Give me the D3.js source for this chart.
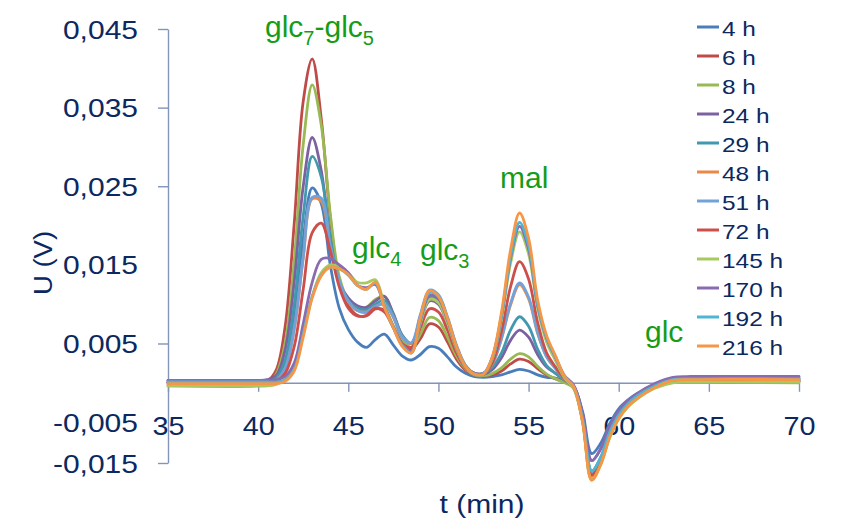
<!DOCTYPE html>
<html>
<head>
<meta charset="utf-8">
<script src="https://cdn.jsdelivr.net/npm/d3@7"></script>
<style>
  html, body { margin: 0; padding: 0; background: #ffffff; }
  svg { display: block; }
</style>
</head>
<body>
<svg id="chart" width="841" height="521"></svg>
<script>
// Retention time grid (min)
const times = [35, 40, 40.5, 41, 41.5, 42, 42.5, 43, 43.5, 44,
               44.5, 45, 45.5, 46, 46.5, 47, 47.5, 48, 48.5, 49,
               49.5, 50, 50.5, 51, 51.5, 52, 52.5, 53, 53.5, 54,
               54.5, 55, 55.5, 56, 56.5, 57, 57.5, 58, 58.5, 59,
               59.5, 60, 60.5, 61, 62, 63, 64, 70];

// Detector signal U (V) for each hydrolysis time
const u4h = [0.0001, 0.0001, 0.0001, 0.0005, 0.0025, 0.0085, 0.0183, 0.0248, 0.0228, 0.0150,
             0.0095, 0.0068, 0.0052, 0.0045, 0.0055, 0.0062, 0.0048, 0.0034, 0.0029, 0.0036,
             0.0046, 0.0044, 0.0033, 0.0020, 0.0012, 0.0008, 0.0007, 0.0008, 0.0010, 0.0014,
             0.0017, 0.0015, 0.0010, 0.0007, 0.0006, 0.0002, -0.0005, -0.0037, -0.0090, -0.0077,
             -0.0052, -0.0033, -0.0022, -0.0014, -0.0003, 0.0002, 0.0003, 0.0003];
const u6h = [0.0000, 0.0000, 0.0002, 0.0016, 0.0072, 0.0202, 0.0358, 0.0412, 0.0336, 0.0210,
             0.0128, 0.0098, 0.0086, 0.0085, 0.0094, 0.0092, 0.0072, 0.0050, 0.0043, 0.0056,
             0.0075, 0.0071, 0.0052, 0.0030, 0.0016, 0.0010, 0.0009, 0.0010, 0.0015, 0.0024,
             0.0030, 0.0027, 0.0018, 0.0010, 0.0005, 0.0001, -0.0006, -0.0048, -0.0118, -0.0099,
             -0.0067, -0.0044, -0.0029, -0.0019, -0.0005, 0.0003, 0.0003, 0.0002];
const u8h = [-0.0004, -0.0004, -0.0002, 0.0011, 0.0051, 0.0155, 0.0303, 0.0379, 0.0328, 0.0215,
             0.0135, 0.0105, 0.0095, 0.0096, 0.0106, 0.0110, 0.0085, 0.0056, 0.0045, 0.0062,
             0.0083, 0.0079, 0.0058, 0.0034, 0.0018, 0.0010, 0.0009, 0.0012, 0.0019, 0.0030,
             0.0037, 0.0033, 0.0021, 0.0011, 0.0005, 0.0000, -0.0007, -0.0050, -0.0123, -0.0103,
             -0.0069, -0.0045, -0.0030, -0.0020, -0.0006, 0.0001, 0.0001, 0.0000];
const u24h = [0.0003, 0.0003, 0.0004, 0.0009, 0.0042, 0.0128, 0.0250, 0.0312, 0.0270, 0.0180,
              0.0127, 0.0108, 0.0098, 0.0096, 0.0104, 0.0110, 0.0088, 0.0060, 0.0050, 0.0078,
              0.0104, 0.0100, 0.0075, 0.0043, 0.0021, 0.0012, 0.0011, 0.0017, 0.0032, 0.0054,
              0.0067, 0.0058, 0.0036, 0.0020, 0.0012, 0.0004, -0.0004, -0.0040, -0.0099, -0.0084,
              -0.0056, -0.0037, -0.0025, -0.0016, -0.0003, 0.0005, 0.0007, 0.0007];
const u29h = [0.0000, 0.0000, 0.0001, 0.0006, 0.0029, 0.0099, 0.0212, 0.0288, 0.0262, 0.0185,
              0.0128, 0.0105, 0.0095, 0.0093, 0.0100, 0.0105, 0.0086, 0.0060, 0.0050, 0.0080,
              0.0108, 0.0104, 0.0078, 0.0045, 0.0022, 0.0012, 0.0012, 0.0020, 0.0038, 0.0067,
              0.0084, 0.0072, 0.0043, 0.0022, 0.0012, 0.0003, -0.0005, -0.0046, -0.0112, -0.0095,
              -0.0063, -0.0041, -0.0028, -0.0018, -0.0004, 0.0004, 0.0005, 0.0005];
const u48h = [-0.0002, -0.0002, -0.0002, 0.0003, 0.0018, 0.0068, 0.0158, 0.0234, 0.0231, 0.0172,
              0.0127, 0.0103, 0.0092, 0.0090, 0.0097, 0.0100, 0.0083, 0.0058, 0.0050, 0.0085,
              0.0115, 0.0110, 0.0082, 0.0047, 0.0022, 0.0012, 0.0012, 0.0024, 0.0056, 0.0099,
              0.0125, 0.0107, 0.0063, 0.0033, 0.0018, 0.0005, -0.0005, -0.0049, -0.0119, -0.0101,
              -0.0068, -0.0044, -0.0029, -0.0019, -0.0005, 0.0003, 0.0004, 0.0003];
const u51h = [0.0001, 0.0001, 0.0001, 0.0003, 0.0019, 0.0069, 0.0160, 0.0236, 0.0235, 0.0175,
              0.0130, 0.0104, 0.0092, 0.0090, 0.0097, 0.0100, 0.0084, 0.0058, 0.0051, 0.0087,
              0.0118, 0.0112, 0.0084, 0.0048, 0.0022, 0.0012, 0.0012, 0.0025, 0.0057, 0.0101,
              0.0127, 0.0109, 0.0064, 0.0033, 0.0018, 0.0005, -0.0005, -0.0047, -0.0114, -0.0097,
              -0.0065, -0.0042, -0.0028, -0.0018, -0.0004, 0.0004, 0.0005, 0.0005];
const u72h = [0.0000, 0.0000, 0.0000, 0.0002, 0.0012, 0.0046, 0.0119, 0.0191, 0.0203, 0.0168,
              0.0122, 0.0095, 0.0085, 0.0086, 0.0095, 0.0090, 0.0070, 0.0050, 0.0045, 0.0070,
              0.0094, 0.0090, 0.0067, 0.0038, 0.0019, 0.0011, 0.0011, 0.0026, 0.0066, 0.0122,
              0.0154, 0.0132, 0.0077, 0.0038, 0.0020, 0.0005, -0.0006, -0.0048, -0.0117, -0.0099,
              -0.0066, -0.0043, -0.0029, -0.0019, -0.0005, 0.0003, 0.0003, 0.0002];
const u145h = [-0.0004, -0.0004, -0.0004, -0.0002, 0.0004, 0.0018, 0.0062, 0.0110, 0.0140, 0.0150,
               0.0147, 0.0140, 0.0128, 0.0127, 0.0131, 0.0100, 0.0072, 0.0048, 0.0040, 0.0076,
               0.0106, 0.0102, 0.0076, 0.0043, 0.0020, 0.0011, 0.0011, 0.0031, 0.0081, 0.0152,
               0.0192, 0.0164, 0.0095, 0.0052, 0.0028, 0.0006, -0.0007, -0.0050, -0.0123, -0.0104,
               -0.0070, -0.0046, -0.0031, -0.0021, -0.0007, 0.0000, 0.0001, 0.0001];
const u170h = [0.0003, 0.0003, 0.0003, 0.0004, 0.0008, 0.0025, 0.0075, 0.0128, 0.0157, 0.0158,
               0.0150, 0.0140, 0.0124, 0.0121, 0.0125, 0.0098, 0.0071, 0.0048, 0.0040, 0.0079,
               0.0111, 0.0107, 0.0080, 0.0045, 0.0021, 0.0012, 0.0012, 0.0033, 0.0085, 0.0158,
               0.0199, 0.0170, 0.0099, 0.0057, 0.0032, 0.0009, -0.0003, -0.0040, -0.0099, -0.0084,
               -0.0055, -0.0036, -0.0023, -0.0014, -0.0001, 0.0007, 0.0008, 0.0008];
const u192h = [0.0001, 0.0001, 0.0001, 0.0001, 0.0004, 0.0017, 0.0062, 0.0110, 0.0137, 0.0147,
               0.0145, 0.0137, 0.0124, 0.0119, 0.0127, 0.0097, 0.0070, 0.0047, 0.0038, 0.0081,
               0.0115, 0.0110, 0.0082, 0.0046, 0.0021, 0.0011, 0.0011, 0.0033, 0.0086, 0.0161,
               0.0204, 0.0175, 0.0101, 0.0058, 0.0033, 0.0008, -0.0005, -0.0046, -0.0112, -0.0095,
               -0.0063, -0.0041, -0.0027, -0.0017, -0.0004, 0.0004, 0.0005, 0.0005];
const u216h = [-0.0001, -0.0001, -0.0001, -0.0001, 0.0002, 0.0015, 0.0058, 0.0108, 0.0136, 0.0147,
               0.0145, 0.0138, 0.0124, 0.0119, 0.0128, 0.0096, 0.0070, 0.0046, 0.0038, 0.0083,
               0.0117, 0.0110, 0.0082, 0.0046, 0.0021, 0.0011, 0.0011, 0.0034, 0.0090, 0.0169,
               0.0216, 0.0184, 0.0106, 0.0060, 0.0034, 0.0008, -0.0005, -0.0050, -0.0124, -0.0104,
               -0.0069, -0.0045, -0.0030, -0.0020, -0.0006, 0.0003, 0.0004, 0.0004];

const seriesNames = ["4 h", "6 h", "8 h", "24 h", "29 h", "48 h",
                     "51 h", "72 h", "145 h", "170 h", "192 h", "216 h"];
const seriesValues = [u4h, u6h, u8h, u24h, u29h, u48h,
                      u51h, u72h, u145h, u170h, u192h, u216h];
const seriesColors = ["#4a7ebb", "#be4b48", "#98b954", "#7d60a0", "#4198af", "#e8894a",
                      "#72a2da", "#cc4f4c", "#a7c95f", "#8a6bb0", "#4fb6d2", "#f79646"];

// Axis ticks
const xTickValues = [35, 40, 45, 50, 55, 60, 65, 70];
const yTickValues = [0.045, 0.035, 0.025, 0.015, 0.005, -0.005];
const yFloorLabel = "-0,015";      // label printed at the bottom end of the U axis
const yUnmarked = [0.015, -0.005]; // labels printed without a tick stroke

// Peak annotations: [text, isSubscript] pieces
const peakLabels = [
  [["glc", false], ["7", true], ["-glc", false], ["5", true]],
  [["glc", false], ["4", true]],
  [["glc", false], ["3", true]],
  [["mal", false]],
  [["glc", false]]
];

// ---------------------------------------------------------------
const svg = d3.select("#chart");
const FONT = "'Liberation Sans', Arial, Helvetica, sans-serif";
const NAVY = "#0b2860";
const AXIS = "#8294b8";
const GREEN = "#179c17";

const x = d3.scaleLinear().domain([35, 70]).range([168, 799]);
const y = d3.scaleLinear().domain([-0.0102, 0.045]).range([463, 29]);

const fmt = d3.formatLocale({decimal: ",", thousands: ".", grouping: [3],
                             currency: ["", ""], minus: "-"}).format(".3f");
const yMin = y.domain()[0];

// Y axis
const yAxis = d3.axisLeft(y)
  .tickValues(yTickValues.concat([yMin]))
  .tickSize(10)
  .tickSizeOuter(0)
  .tickFormat(d => d === yMin ? yFloorLabel : fmt(d));

const gy = svg.append("g").attr("transform", "translate(168,0)").call(yAxis);
gy.select(".domain").attr("stroke", AXIS).attr("stroke-width", 1.4);
gy.selectAll(".tick line").attr("stroke", AXIS).attr("stroke-width", 1.4);
gy.selectAll(".tick").filter(d => yUnmarked.includes(d)).select("line").remove();
gy.selectAll(".tick text")
  .attr("x", 0).attr("dy", 0).attr("y", 0)
  .attr("transform", "translate(-30,9) scale(1.2,1)")
  .attr("text-anchor", "end")
  .attr("fill", NAVY)
  .style("font-family", FONT)
  .style("font-size", "25px");

// X axis, crossing at U = 0
const xAxis = d3.axisBottom(x)
  .tickValues(xTickValues)
  .tickSize(9)
  .tickSizeOuter(0)
  .tickFormat(d3.format("d"));

const gx = svg.append("g").attr("transform", `translate(0,${y(0)})`).call(xAxis);
gx.select(".domain").attr("stroke", AXIS).attr("stroke-width", 1.4);
gx.selectAll(".tick line").attr("stroke", AXIS).attr("stroke-width", 1.4);
gx.selectAll(".tick text")
  .attr("y", 0).attr("dy", 0)
  .attr("transform", "translate(0,52) scale(1.15,1)")
  .attr("text-anchor", "middle")
  .attr("fill", NAVY)
  .style("font-family", FONT)
  .style("font-size", "25px");

// Axis titles
svg.append("text")
  .attr("transform", "translate(52,263) rotate(-90) scale(1.1,1)")
  .attr("text-anchor", "middle")
  .attr("fill", NAVY)
  .style("font-family", FONT)
  .style("font-size", "25px")
  .text("U (V)");

svg.append("text")
  .attr("transform", "translate(482,513) scale(1.2,1)")
  .attr("text-anchor", "middle")
  .attr("fill", NAVY)
  .style("font-family", FONT)
  .style("font-size", "25px")
  .text("t (min)");

// Chromatogram traces
const line = d3.line()
  .x((d, i) => x(times[i]))
  .y(d => y(d))
  .curve(d3.curveCatmullRom.alpha(0.5));

svg.append("g")
  .selectAll("path")
  .data(seriesValues)
  .join("path")
  .attr("d", d => line(d))
  .attr("fill", "none")
  .attr("stroke", (d, i) => seriesColors[i])
  .attr("stroke-width", 2.8)
  .attr("stroke-linejoin", "round")
  .attr("stroke-linecap", "round");

// Legend
const legend = svg.append("g");
const rows = legend.selectAll("g")
  .data(seriesNames)
  .join("g")
  .attr("transform", (d, i) => `translate(697,${29 + i * 29})`);
rows.append("line")
  .attr("x1", 0).attr("x2", 22)
  .attr("y1", -2).attr("y2", -2)
  .attr("stroke", (d, i) => seriesColors[i])
  .attr("stroke-width", 3);
rows.append("text")
  .attr("transform", "translate(25,7) scale(1.22,1)")
  .attr("fill", NAVY)
  .style("font-family", FONT)
  .style("font-size", "20px")
  .text(d => d);

// Peak annotations
const labelPos = [[265, 37], [352, 258], [420, 260], [500, 188], [645, 342]];
peakLabels.forEach((parts, k) => {
  const t = svg.append("text")
    .attr("x", labelPos[k][0])
    .attr("y", labelPos[k][1])
    .attr("fill", GREEN)
    .style("font-family", FONT)
    .style("font-size", "30px");
  let lowered = false;
  parts.forEach(([txt, sub]) => {
    const span = t.append("tspan").text(txt);
    if (sub && !lowered) { span.attr("dy", 8).style("font-size", "20px"); lowered = true; }
    else if (sub) { span.style("font-size", "20px"); }
    else if (lowered) { span.attr("dy", -8); lowered = false; }
  });
});
</script>
</body>
</html>
